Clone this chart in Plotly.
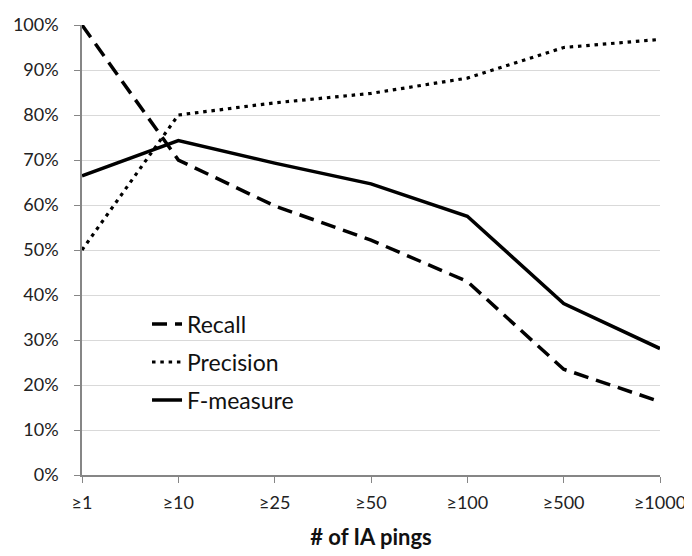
import plotly.graph_objects as go

categories = ["≥1", "≥10", "≥25", "≥50", "≥100", "≥500", "≥1000"]
recall = [1.00, 0.70, 0.598, 0.522, 0.43, 0.235, 0.163]
precision = [0.50, 0.80, 0.827, 0.848, 0.882, 0.95, 0.968]
f_measure = [0.665, 0.743, 0.693, 0.647, 0.575, 0.381, 0.281]

FONT = "Lato"

fig = go.Figure()
fig.add_trace(go.Scatter(x=categories, y=recall, mode="lines", name="Recall",
                         legendgroup="r",
                         line=dict(color="black", width=3.5, dash="15px,8px")))
fig.add_trace(go.Scatter(x=categories, y=precision, mode="lines", name="Precision",
                         legendgroup="p",
                         line=dict(color="black", width=3.2, dash="3.5px,4.8px")))
fig.add_trace(go.Scatter(x=categories, y=f_measure, mode="lines", name="F-measure",
                         legendgroup="f",
                         line=dict(color="black", width=3.5)))

# The page body has an 8px default margin, so the figure is 8px smaller and offset.
fig.update_layout(
    width=684, height=548,
    margin=dict(l=74, r=32, t=17, b=81, autoexpand=False),
    paper_bgcolor="white", plot_bgcolor="white",
    font=dict(family=FONT, size=18, color="#222222"),
    showlegend=True,
    legend=dict(x=0.1125, y=0.383, xanchor="left", yanchor="top",
                bgcolor="rgba(0,0,0,0)", font=dict(size=23, color="#111111"),
                tracegroupgap=5),
    xaxis=dict(type="category", range=[0, 6], showgrid=False, automargin=False,
               showline=True, linecolor="#868686", linewidth=1.5,
               ticks="outside", ticklen=6, tickcolor="#868686",
               ticklabelstandoff=5,
               tickfont=dict(size=18, color="#222222"),
               title=dict(text="<b># of IA pings</b>", font=dict(size=22, color="#111111"),
                          standoff=17)),
    yaxis=dict(range=[0, 1], dtick=0.1, tickformat=".0%", automargin=False,
               showgrid=True, gridcolor="#d9d9d9", gridwidth=1.2,
               showline=True, linecolor="#868686", linewidth=1.5,
               ticks="outside", ticklen=6, tickcolor="#868686",
               ticklabelstandoff=12,
               tickfont=dict(size=18, color="#222222"),
               zeroline=False),
)

fig.write_html("out.html")
